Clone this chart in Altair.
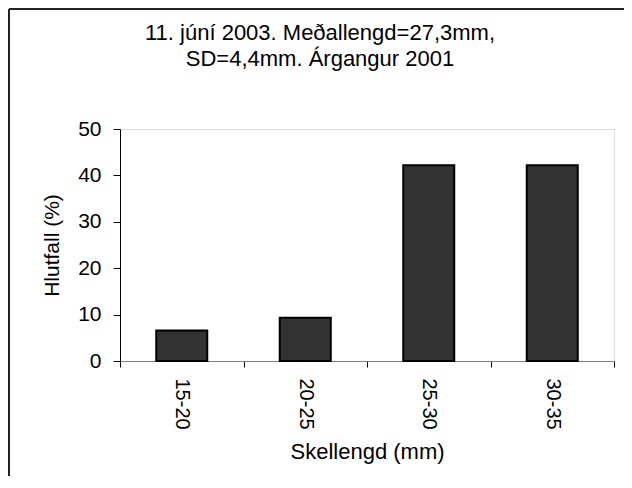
import altair as alt
import pandas as pd

categories = ["15-20", "20-25", "25-30", "30-35"]
values = [6.6, 9.3, 42.2, 42.2]

title_lines = ["11. júní 2003. Meðallengd=27,3mm,", "SD=4,4mm. Árgangur 2001"]
x_title = "Skellengd (mm)"
y_title = "Hlutfall (%)"

FONT = "Liberation Sans"

df = pd.DataFrame({"cat": categories, "val": values})

bars = alt.Chart(df).mark_bar(
    color="#333333", stroke="#000000", strokeWidth=2,
    width=alt.RelativeBandSize(0.413)
).encode(
    x=alt.X("cat:N", sort=categories, title=x_title,
            scale=alt.Scale(paddingInner=0, paddingOuter=0),
            axis=alt.Axis(labelAngle=90, labelFontSize=20, labelFont=FONT,
                          labelColor="#000", labelPadding=11,
                          tickBand="extent", tickSize=6, tickColor="#000",
                          domainColor="#808080", domainWidth=1,
                          titleFontSize=22, titleFont=FONT, titleFontWeight="normal",
                          titleColor="#000", titlePadding=12)),
    y=alt.Y("val:Q", title=y_title,
            scale=alt.Scale(domain=[0, 50]),
            axis=alt.Axis(values=[0, 10, 20, 30, 40, 50], grid=False,
                          labelFontSize=21, labelFont=FONT, labelColor="#000",
                          labelPadding=12, tickSize=7, tickColor="#000",
                          domainColor="#000", domainWidth=1,
                          titleFontSize=21, titleFont=FONT, titleFontWeight="normal",
                          titleColor="#000", titlePadding=15)),
)

frame_left = alt.Chart(df).mark_rule(color="#222222", strokeWidth=2).encode(
    x=alt.value(-111), y=alt.value(-120), y2=alt.value(400)
)
frame_top = alt.Chart(df).mark_rule(color="#222222", strokeWidth=2).encode(
    x=alt.value(-111), x2=alt.value(520), y=alt.value(-120)
)

chart = alt.layer(frame_left, frame_top, bars).properties(
    width=494, height=232,
    title=alt.TitleParams(text=title_lines, fontSize=22, font=FONT,
                          fontWeight="normal", color="#000", anchor="middle",
                          dx=-47, baseline="alphabetic", offset=-80, lineHeight=26),
    autosize=alt.AutoSizeParams(type="none"),
    padding={"left": 112, "top": 121, "right": 10, "bottom": 115},
).configure_view(stroke=None).configure(background="white")

chart.save("out.html", embed_options={"renderer": "svg", "actions": False})
